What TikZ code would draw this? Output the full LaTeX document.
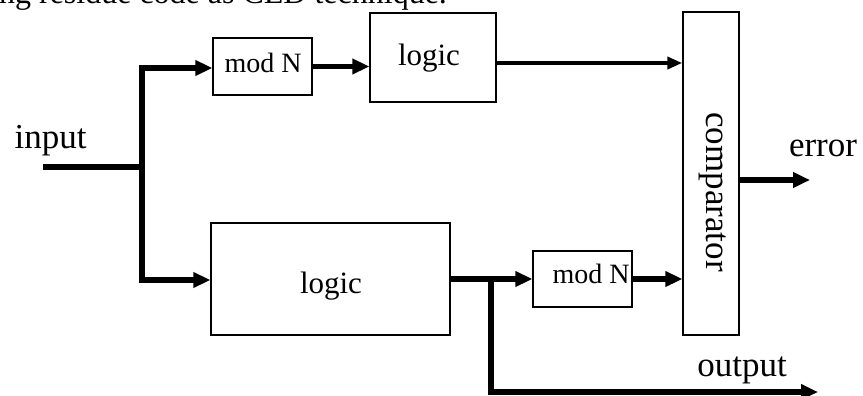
\documentclass[tikz,border=0pt]{standalone}
\usepackage{fontspec}
\setmainfont{Liberation Serif}
\usetikzlibrary{arrows.meta}
\begin{document}
\begin{tikzpicture}[x=1pt,y=-1pt,
  blk/.style={draw,line width=1.4pt,inner sep=0pt,fill=white},
  wire/.style={line width=5.5pt,line join=miter},
  arr/.style={wire,-{Triangle[length=17pt,width=15pt]}},
  thinarr/.style={line width=4.5pt,-{Triangle[length=15pt,width=12pt]}},
  big/.style={font=\fontsize{35}{40}\selectfont,inner sep=0pt},
  mid/.style={font=\fontsize{31}{36}\selectfont,inner sep=0pt},
  small/.style={font=\fontsize{28}{32}\selectfont,inner sep=0pt}]
\useasboundingbox (0,0) rectangle (863,396);
\begin{scope}
  \clip (0,0) rectangle (863,396);
  \node[anchor=base west,font=\fontsize{32}{36}\selectfont,inner sep=0pt] (head) at (-10,4) {ing residue code as CED technique.};
\end{scope}

% blocks
\node[blk,minimum width=99pt,minimum height=57pt] (mod1) at (262.5,66.5) {};
\node[blk,minimum width=126pt,minimum height=89pt] (logic1) at (433,57.5) {};
\node[blk,minimum width=56pt,minimum height=323pt] (comp) at (711,173.5) {};
\node[blk,minimum width=239pt,minimum height=112pt] (logic2) at (330.5,279) {};
\node[blk,minimum width=99pt,minimum height=56pt] (mod2) at (582.5,279) {};

% block labels
\node[small,anchor=base] (tmod1) at (263,73) {mod N};
\node[mid,anchor=base] (tlogic1) at (429,66) {logic};
\node[mid,anchor=base] (tlogic2) at (331,293) {logic};
\node[small,anchor=base] (tmod2) at (591,283) {mod N};
\node[big,rotate=-90] (tcomp) at (713,192) {comparator};

% outside labels
\node[big,anchor=base] (tin) at (50.5,148) {input};
\node[big,anchor=base] (terr) at (823,157) {error};
\node[big,anchor=base] (tout) at (742,376) {output};

% connection points
\coordinate (in) at (43,167);
\coordinate (j) at (142,167);
\coordinate (jt) at (142,68);
\coordinate (jb) at (142,280);
\coordinate (b) at (491,279);
\coordinate (bo) at (491,392);
\coordinate (out) at (818,392);
\coordinate (err) at (810,180);
\coordinate (cmp) at (600,63);

% wires
\draw[wire] (in) -- (j);
\draw[arr] (j) -- (jt) -- (mod1.west |- jt);
\draw[arr] (j) -- (jb) -- (logic2.west |- jb);
\draw[arr] (mod1.east) -- (logic1.west |- mod1.east);
\draw[thinarr] (logic1.east |- cmp) -- (comp.west |- cmp);
\draw[arr] (logic2.east) -- (mod2.west);
\draw[arr] (mod2.east) -- (comp.west |- mod2.east);
\draw[arr] (b) -- (bo) -- (out);
\draw[arr] (comp.east |- err) -- (err);
\end{tikzpicture}
\end{document}
